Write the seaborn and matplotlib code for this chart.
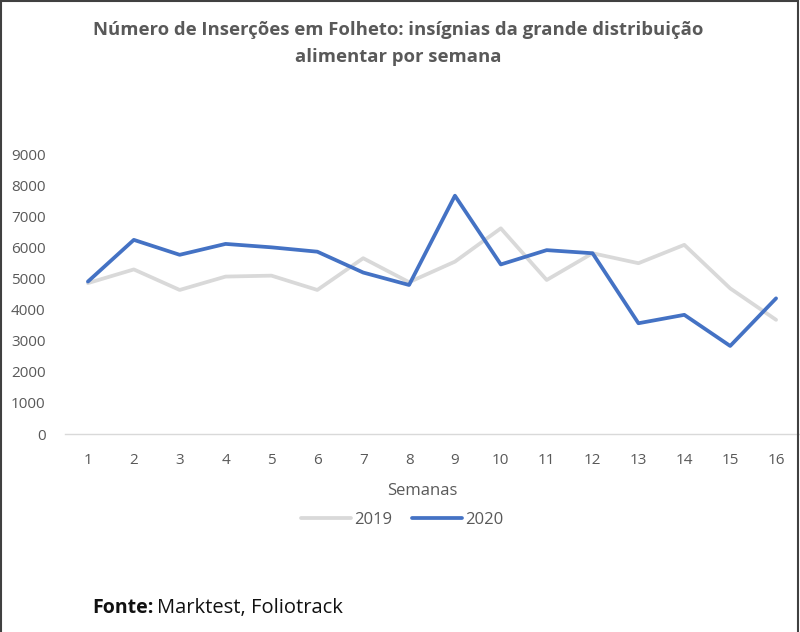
import numpy as np
import pandas as pd
import matplotlib.pyplot as plt
import seaborn as sns
from matplotlib.ticker import FixedLocator
from matplotlib.lines import Line2D

# Weekly counts
weeks = list(range(1, 17))
values_2019 = [4850, 5290, 4630, 5060, 5090, 4630, 5650, 4880,
               5540, 6610, 4950, 5810, 5490, 6080, 4680, 3670]
values_2020 = [4900, 6240, 5760, 6110, 6000, 5860, 5190, 4790,
               7660, 5450, 5910, 5810, 3560, 3830, 2830, 4360]
years = ['2019', '2020']

df = pd.DataFrame({
    'Semana': weeks * 2,
    'Valor': values_2019 + values_2020,
    'Ano': [years[0]] * 16 + [years[1]] * 16,
})

sns.set_style('white')
plt.rcParams['font.family'] = ['Open Sans', 'DejaVu Sans']

fig = plt.figure(figsize=(8, 6.32), dpi=100)
ax = fig.add_axes([65 / 800, 1 - 434 / 632, 734 / 800, 280 / 632])

palette = {'2019': '#D9D9D9', '2020': '#4472C4'}
sns.lineplot(data=df, x='Semana', y='Valor', hue='Ano', palette=palette,
             linewidth=2.7, ax=ax, legend=False)

ax.set_xlim(0.5, 16.5)
ax.set_ylim(0, 9000)
ax.set_yticks(range(0, 9001, 1000))
ax.set_xticks(weeks)
ax.xaxis.set_minor_locator(FixedLocator(np.arange(0.5, 17, 1)))
ax.tick_params(axis='x', which='major', length=0, pad=14, labelsize=11, labelcolor='#595959')
ax.tick_params(axis='x', which='minor', length=6, color='#D9D9D9', width=1)
ax.tick_params(axis='y', length=0, pad=14, labelsize=11, labelcolor='#595959')

for s in ['top', 'right', 'left']:
    ax.spines[s].set_visible(False)
ax.spines['bottom'].set_color('#D9D9D9')
ax.spines['bottom'].set_linewidth(1)

ax.set_xlabel('Semanas', fontsize=12, color='#595959')
ax.xaxis.set_label_coords((422 - 65) / 734, -(483 - 434) / 280)
ax.set_ylabel('')

# legend below the axis
handles = [Line2D([], [], color=palette[y], linewidth=2.7) for y in years]
fig.legend(handles, years, loc='center', bbox_to_anchor=(402 / 800, 1 - 520 / 632),
           ncol=2, frameon=False, fontsize=12, labelcolor='#595959',
           handlelength=3, handletextpad=0.2, columnspacing=1.2)

fig.text(398 / 800, 1 - 30 / 632,
         'Número de Inserções em Folheto: insígnias da grande distribuição',
         ha='center', va='center', fontsize=13.3, fontweight='bold', color='#595959')
fig.text(398 / 800, 1 - 57 / 632, 'alimentar por semana',
         ha='center', va='center', fontsize=13.3, fontweight='bold', color='#595959')

fig.text(92 / 800, 1 - 608 / 632, 'Fonte:', ha='left', va='center',
         fontsize=14, fontweight='bold', color='#111111')
fig.text(157 / 800, 1 - 608 / 632, 'Marktest, Foliotrack', ha='left', va='center',
         fontsize=14.5, color='#111111')

# thin frame around the figure
fig.patches.append(plt.Rectangle((0.001, -0.01), 0.997, 1.008, transform=fig.transFigure,
                                 fill=False, edgecolor='#404040', linewidth=1.5))

fig.savefig('out.png', dpi=100)
